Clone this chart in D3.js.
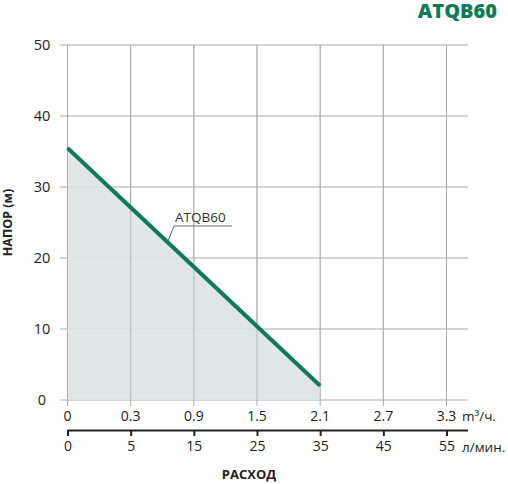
<!DOCTYPE html>
<html><head><meta charset="utf-8">
<script src="https://cdn.jsdelivr.net/npm/d3@7"></script>
<style>body{margin:0;background:#fff}text{font-family:"Open Sans",sans-serif}</style>
</head><body><svg id="c" width="508" height="484"></svg>
<script>
var m3Ticks = ['0','0.3','0.9','1.5','2.1','2.7','3.3'];
var lminTicks = ['0','5','15','25','35','45','55'];
var headTicks = [0,10,20,30,40,50];
// curve points: tick index on flow axis, head in m
var flowIdx = [0, 4];
var head = [35.5, 2];

var svg = d3.select('#c');
var x = d3.scaleLinear().domain([0,6]).range([67.5,446.5]);
var y = d3.scaleLinear().domain([0,50]).range([400,45]);
var right = 468;

// grid
svg.selectAll('.hg').data(headTicks).enter().append('line')
  .attr('x1',60).attr('x2',right).attr('y1',function(d){return y(d);}).attr('y2',function(d){return y(d);})
  .attr('stroke','#aaa').attr('stroke-width',1);
svg.selectAll('.vg').data(m3Ticks).enter().append('line')
  .attr('x1',function(d,i){return x(i);}).attr('x2',function(d,i){return x(i);})
  .attr('y1',y(50)).attr('y2',y(0)+6)
  .attr('stroke','#aaa').attr('stroke-width',1);

var pts = flowIdx.map(function(d,i){return [d, head[i]];});
var area = d3.area().x(function(d){return x(d[0]);}).y0(y(0)).y1(function(d){return y(d[1]);});
svg.append('path').datum(pts).attr('d',area).attr('fill','#dde2e2').attr('fill-opacity',0.9);
svg.selectAll('.vg2').data(m3Ticks).enter().append('line')
  .attr('x1',function(d,i){return x(i);}).attr('x2',function(d,i){return x(i);})
  .attr('y1',y(50)).attr('y2',y(0))
  .attr('stroke','#aaa').attr('stroke-width',1).attr('stroke-opacity',0.6);
svg.append('path').datum(pts)
  .attr('d',d3.line().x(function(d){return x(d[0]);}).y(function(d){return y(d[1]);}))
  .attr('stroke','#0d7a58').attr('stroke-width',4).attr('fill','none');

// y labels
svg.selectAll('.yl').data(headTicks).enter().append('text')
  .attr('x',42).attr('y',function(d){return y(d)+5;}).attr('text-anchor','middle')
  .attr('font-size',14.5).attr('fill','#222').text(function(d){return d;});
svg.append('text').attr('transform','translate(12,'+y(25)+') rotate(-90)')
  .attr('text-anchor','middle').attr('font-size',12.5).attr('font-weight',700).attr('fill','#222').text('НАПОР (м)');

// top flow labels m3/h
svg.selectAll('.xl').data(m3Ticks).enter().append('text')
  .attr('x',function(d,i){return x(i);}).attr('y',421).attr('text-anchor','middle')
  .attr('font-size',14).attr('fill','#222').text(function(d){return d;});
svg.append('text').attr('x',462).attr('y',421).attr('font-size',13.5).attr('fill','#222').text('m³/ч.');

// bottom axis l/min
var ax = svg.append('g').attr('transform','translate(0,430)')
  .call(d3.axisBottom(x).tickValues(d3.range(7)).tickSize(6).tickFormat(function(d){return lminTicks[d];}));
ax.select('.domain').attr('d','M67.5,0.5H'+right).attr('stroke','#222').attr('stroke-width',2);
ax.selectAll('.tick line').attr('stroke','#222').attr('stroke-width',2);
ax.selectAll('.tick text').attr('font-size',14).attr('fill','#222').attr('dy','0.85em')
  .style('font-family','"Open Sans",sans-serif');
svg.append('text').attr('x',462).attr('y',452).attr('font-size',13.5).attr('fill','#222').text('л/мин.');
svg.append('text').attr('x',249).attr('y',479).attr('text-anchor','middle')
  .attr('font-size',13).attr('font-weight',700).attr('fill','#222').text('РАСХОД');

// title
svg.append('text').attr('x',497).attr('y',18).attr('text-anchor','end')
  .attr('font-size',20).attr('font-weight',800).attr('fill','#0d7a58').text('ATQB60');

// curve label with leader
svg.append('path').attr('d','M168,241 L174,226 L232,226').attr('fill','none').attr('stroke','#666').attr('stroke-width',1);
svg.append('text').attr('x',175).attr('y',222).attr('font-size',13.5).attr('fill','#333').text('ATQB60');
</script></body></html>
